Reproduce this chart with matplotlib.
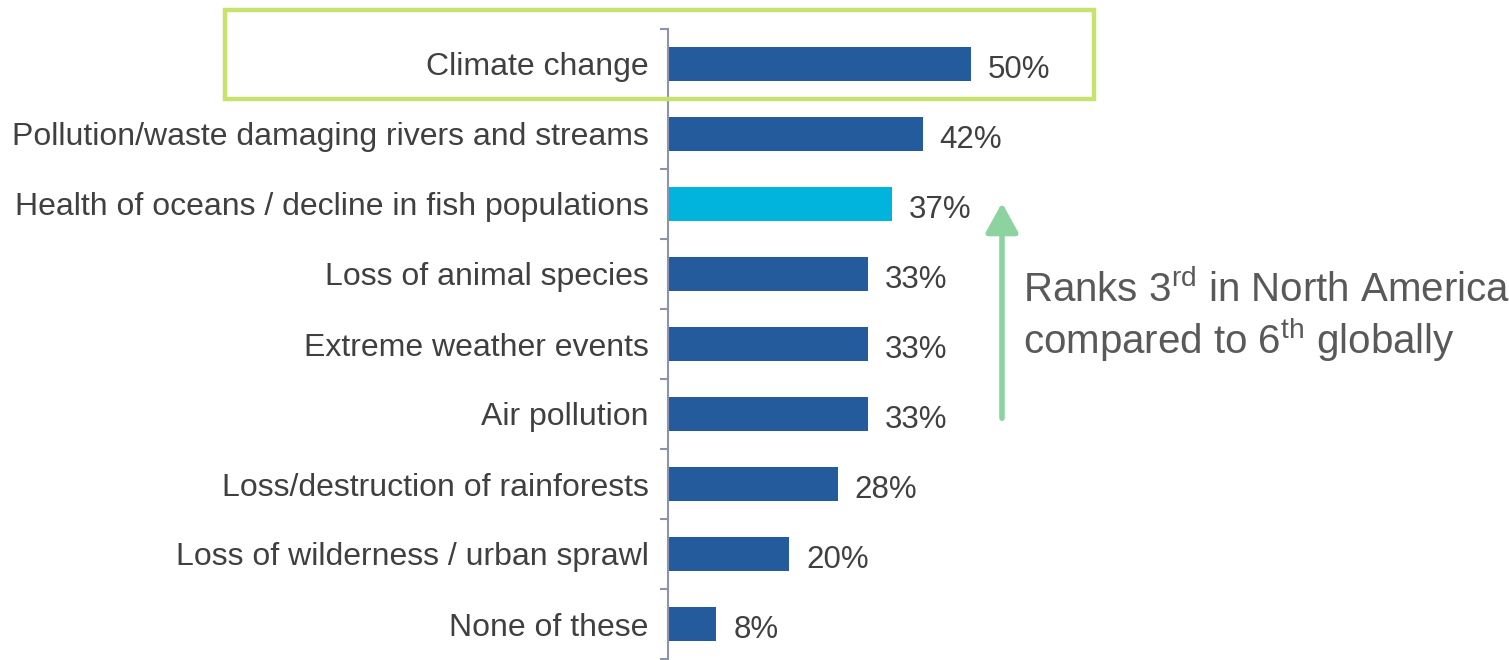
import numpy as np
import matplotlib.pyplot as plt
from matplotlib.patches import Rectangle, FancyArrowPatch

plt.rcParams['font.family'] = ['Liberation Sans', 'DejaVu Sans']
plt.rcParams['mathtext.fontset'] = 'custom'
plt.rcParams['mathtext.rm'] = 'Liberation Sans'

categories = [
    "Climate change",
    "Pollution/waste damaging rivers and streams",
    "Health of oceans / decline in fish populations",
    "Loss of animal species",
    "Extreme weather events",
    "Air pollution",
    "Loss/destruction of rainforests",
    "Loss of wilderness / urban sprawl",
    "None of these",
]
values = [50, 42, 37, 33, 33, 33, 28, 20, 8]
highlight = "Health of oceans / decline in fish populations"

dark_blue = "#235B9C"
cyan = "#00B4DE"
text_col = "#404040"

W, H = 1509, 660
fig = plt.figure(figsize=(W / 100, H / 100), dpi=100)
ax = fig.add_axes([668 / W, 1 / H, 606 / W, 630 / H])

y = np.arange(len(categories))
colors = [cyan if c == highlight else dark_blue for c in categories]
ax.barh(y, values, height=0.49, color=colors)

ax.set_xlim(0, 100)
ax.set_ylim(len(categories) - 0.5, -0.5)

for yi, v in zip(y, values):
    ax.text(v + 2.8, yi + 0.03, f"{v}%", va="center_baseline", ha="left",
            fontsize=22.5, color=text_col)

ax.set_yticks(y)
ax.set_yticklabels(categories, fontsize=23, color=text_col)
ax.tick_params(axis="y", which="major", length=0, pad=14)
ax.set_yticks(np.arange(-0.5, len(categories), 1), minor=True)
ax.tick_params(axis="y", which="minor", length=6, width=1.5, color="#8C93AD")
ax.set_xticks([])
for s in ["top", "right", "bottom"]:
    ax.spines[s].set_visible(False)
ax.spines["left"].set_color("#8C93AD")
ax.spines["left"].set_linewidth(1.5)

# box around the top item
fig.patches.append(Rectangle((225 / W, 1 - 99 / H), (1094 - 225) / W, 89 / H,
                             transform=fig.transFigure, fill=False,
                             edgecolor="#C8E26E", linewidth=3.2))

# arrow and note
fig.add_artist(FancyArrowPatch(
    (1002 / W, 1 - 421 / H), (1002 / W, 1 - 200 / H),
    transform=fig.transFigure, arrowstyle="-|>,head_length=1.0,head_width=0.55",
    mutation_scale=18, color="#8DD3A0", linewidth=4))

fig.text(1023 / W, 1 - 290 / H, r"Ranks 3$^{\mathrm{rd}}$ in North America",
         fontsize=29, color="#595959", va="center", ha="left")
fig.text(1023 / W, 1 - 340 / H, r"compared to 6$^{\mathrm{th}}$ globally",
         fontsize=29, color="#595959", va="center", ha="left")

fig.savefig("out.png", dpi=100)
